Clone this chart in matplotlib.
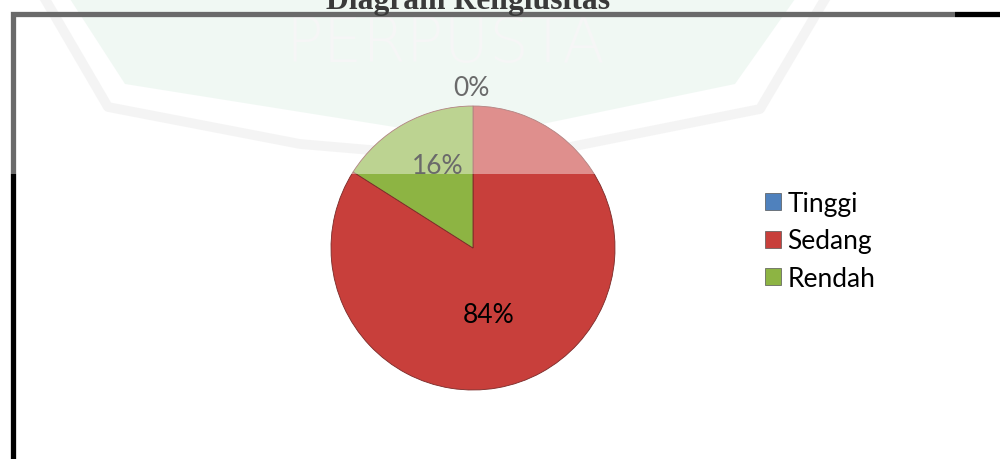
import matplotlib

matplotlib.use("Agg")
import matplotlib.pyplot as plt  # noqa: E402
from matplotlib.lines import Line2D  # noqa: E402
from matplotlib.patches import Patch, Polygon, Rectangle  # noqa: E402

categories = ["Tinggi", "Sedang", "Rendah"]
values = [0, 84, 16]
colors = ["#4F81BD", "#C83F3B", "#8DB443"]
label_text = ["0%", "84%", "16%"]
label_xy = [(-0.01, 1.13), (0.11, -0.47), (-0.25, 0.58)]
title = "Diagram Religiusitas"

W, H = 1000, 460


def fx(px):
    return px / W


def fy(py):
    return 1 - py / H


fig = plt.figure(figsize=(10, 4.6), dpi=100)
fig.patch.set_facecolor("white")

# faint library watermark behind everything
mint = Polygon([(fx(70), fy(0)), (fx(125), fy(85)), (fx(470), fy(140)),
                (fx(735), fy(85)), (fx(795), fy(0))],
               closed=True, transform=fig.transFigure, facecolor="#E6F4EC",
               edgecolor="none", zorder=-2)
fig.add_artist(mint)
fig.add_artist(Line2D([fx(45), fx(108), fx(300), fx(500), fx(760), fx(825)],
                      [fy(0), fy(108), fy(145), fy(162), fy(110), fy(0)],
                      transform=fig.transFigure, color="#EDEDED", lw=7, zorder=-1))
fig.text(fx(285), fy(62), "PERPUSTA", fontsize=45, color="#F0F0F0",
         family="DejaVu Sans", weight="light", zorder=-1)

# pie
r_px = 142
cx, cy = 473, 249
ax = fig.add_axes([fx(cx - r_px), fy(cy + r_px), 2 * r_px / W, 2 * r_px / H])
ax.pie(values, colors=colors, startangle=90, counterclock=False,
       wedgeprops=dict(edgecolor="#7A2A28", linewidth=0.6))
ax.set_xlim(-1, 1)
ax.set_ylim(-1, 1)
ax.set_aspect("equal")
ax.axis("off")
for txt, (x, y) in zip(label_text, label_xy):
    ax.text(x, y, txt, ha="center", va="center", fontsize=19,
            family="Lato", color="black", clip_on=False)

# legend
handles = [Patch(facecolor=c, edgecolor="#555555", linewidth=0.5) for c in colors]
fig.legend(handles, categories, loc="center left",
           bbox_to_anchor=(fx(765), fy(242)), frameon=False,
           prop=dict(family="Lato", size=19), handlelength=0.6,
           handleheight=0.6, handletextpad=0.25, labelspacing=0.48,
           borderpad=0, borderaxespad=0)

# title and frame
fig.text(fx(468), fy(9), title, ha="center", va="baseline", fontsize=22.8,
         family="Liberation Serif", weight="bold", color="#3A3A3A", zorder=11)
fig.add_artist(Line2D([fx(12.5), fx(12.5), fx(1000)], [fy(460), fy(14.5), fy(14.5)],
                      transform=fig.transFigure, color="black", lw=3.8,
                      solid_joinstyle="miter", zorder=3))

# translucent white band over the top of the page
fig.add_artist(Rectangle((0, fy(175)), fx(955), 175 / H, transform=fig.transFigure,
                         facecolor="white", alpha=0.42, edgecolor="none", zorder=10))

fig.savefig("out.png", dpi=100)
plt.close(fig)
